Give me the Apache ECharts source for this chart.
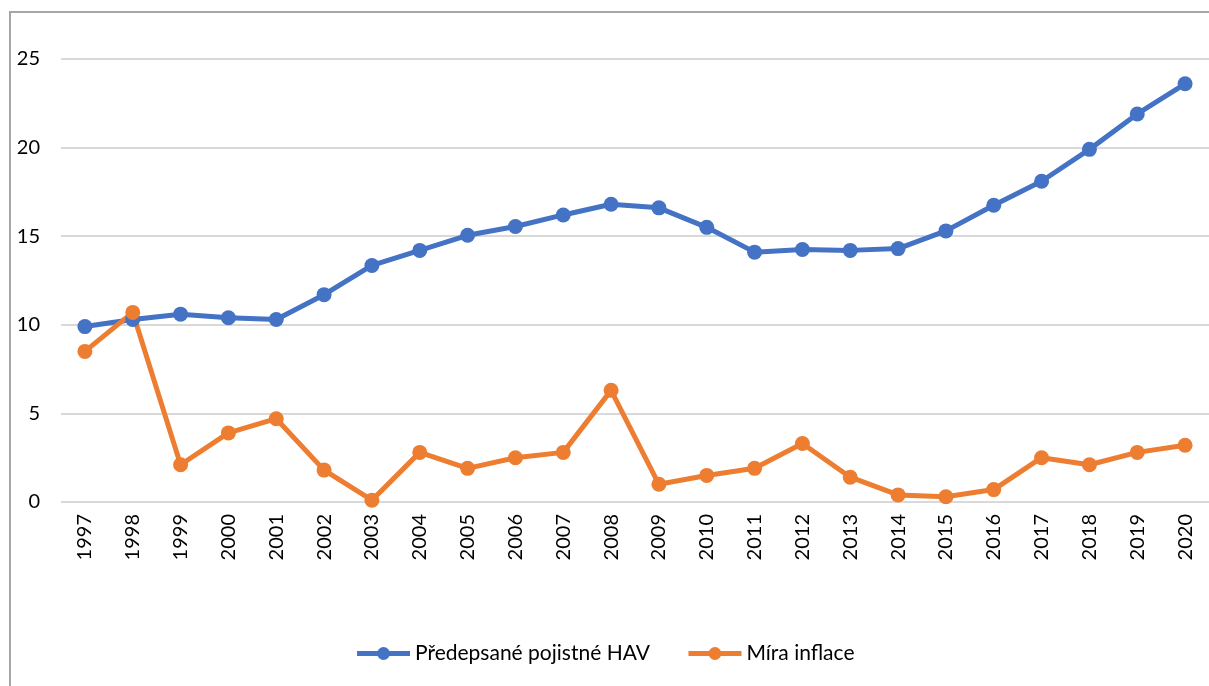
<!DOCTYPE html>
<html>
<head>
<meta charset="utf-8">
<script src="https://cdn.jsdelivr.net/npm/echarts@6/dist/echarts.min.js"></script>
<style>
  html, body { margin: 0; padding: 0; background: #fff; }
  #chart { width: 1209px; height: 686px; }
  #frame {
    position: absolute; left: 9px; top: 11px; width: 1300px; height: 700px;
    border-top: 2px solid #a6a6a6; border-left: 2px solid #a6a6a6;
    pointer-events: none;
  }
</style>
</head>
<body>
<div id="chart"></div>
<div id="frame"></div>
<script>
const years = ['1997', '1998', '1999', '2000', '2001', '2002', '2003', '2004', '2005', '2006', '2007', '2008',
               '2009', '2010', '2011', '2012', '2013', '2014', '2015', '2016', '2017', '2018', '2019', '2020'];
const pojistne = [9.9, 10.3, 10.6, 10.4, 10.3, 11.7, 13.35, 14.2, 15.05, 15.55, 16.2, 16.8,
                  16.6, 15.5, 14.1, 14.25, 14.2, 14.3, 15.3, 16.75, 18.1, 19.9, 21.9, 23.6];
const inflace = [8.5, 10.7, 2.1, 3.9, 4.7, 1.8, 0.1, 2.8, 1.9, 2.5, 2.8, 6.3,
                 1.0, 1.5, 1.9, 3.3, 1.4, 0.4, 0.3, 0.7, 2.5, 2.1, 2.8, 3.2];
const seriesNames = ['Předepsané pojistné HAV', 'Míra inflace'];

const chart = echarts.init(document.getElementById('chart'));
const font = 'Lato, "Open Sans", sans-serif';

chart.setOption({
    animation: false,
    textStyle: { fontFamily: font },
    grid: {
        left: 61,
        top: 59,
        width: 1152,
        height: 443
    },
    legend: {
        bottom: 17,
        left: 'center',
        itemWidth: 53,
        itemHeight: 16,
        itemGap: 36,
        lineStyle: { width: 5 },
        textStyle: { fontSize: 21, color: '#000', fontFamily: font },
        data: seriesNames
    },
    xAxis: {
        type: 'category',
        data: years,
        boundaryGap: true,
        axisLine: { show: false },
        axisTick: { show: false },
        axisLabel: { rotate: 90, fontSize: 20, color: '#000', margin: 12 }
    },
    yAxis: {
        type: 'value',
        min: 0,
        max: 25,
        interval: 5,
        axisLine: { show: false },
        axisTick: { show: false },
        axisLabel: { fontSize: 20, color: '#000', margin: 21 },
        splitLine: { lineStyle: { color: '#d9d9d9', width: 2 } }
    },
    series: [
        {
            name: seriesNames[0],
            type: 'line',
            data: pojistne,
            symbol: 'circle',
            symbolSize: 15,
            itemStyle: { color: '#4472c4' },
            lineStyle: { width: 5, color: '#4472c4' }
        },
        {
            name: seriesNames[1],
            type: 'line',
            data: inflace,
            symbol: 'circle',
            symbolSize: 15,
            itemStyle: { color: '#ed7d31' },
            lineStyle: { width: 5, color: '#ed7d31' }
        }
    ]
});
</script>
</body>
</html>
